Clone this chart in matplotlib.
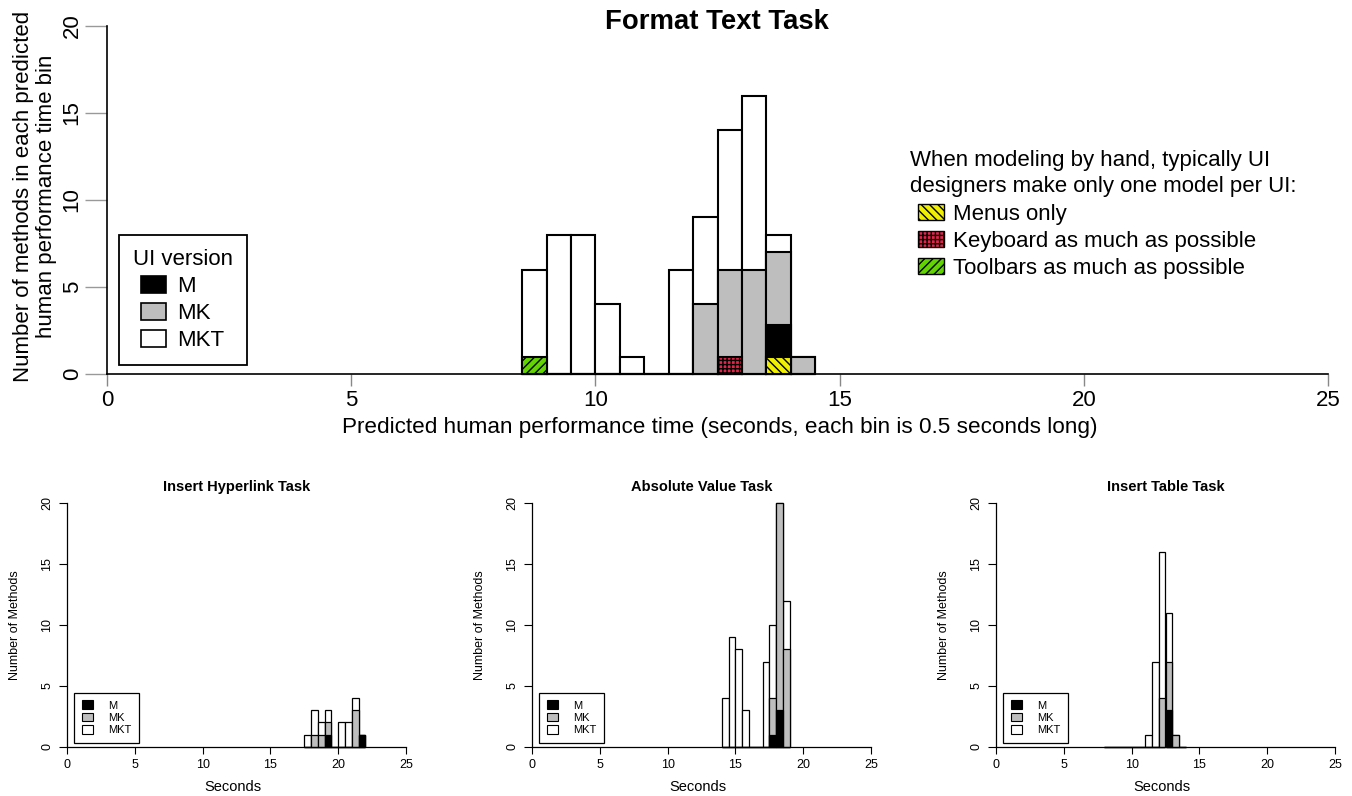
import matplotlib
matplotlib.use('Agg')
import matplotlib.pyplot as plt
from matplotlib.patches import Patch

plt.rcParams['font.family'] = ['Liberation Sans', 'DejaVu Sans']
plt.rcParams['hatch.linewidth'] = 1.0

BIN = 0.5

# ---- Main chart: Format Text Task ----
ft_bins = [8.5, 9.0, 9.5, 10.0, 10.5, 11.0, 11.5, 12.0, 12.5, 13.0, 13.5, 14.0]
ft_mkt = [6, 8, 8, 4, 1, 0, 6, 9, 14, 16, 8, 1]
ft_mk = [0, 0, 0, 0, 0, 0, 0, 4, 6, 6, 7, 1]
ft_m = [0, 0, 0, 0, 0, 0, 0, 0, 0, 0, 2.8, 0]

hand_labels = ['Menus only', 'Keyboard as much as possible', 'Toolbars as much as possible']
hand_bins = [13.5, 12.5, 8.5]
hand_counts = [1, 1, 1]
hand_colors = ['#F0F000', '#E8234A', '#62D400']
hand_hatches = ['\\\\\\\\', '++++', '////']

# ---- Small charts ----
hl_bins = [17.5, 18.0, 18.5, 19.0, 19.5, 20.0, 20.5, 21.0, 21.5]
hl_mkt = [1, 3, 2, 3, 0, 2, 2, 4, 1]
hl_mk = [0, 1, 1, 2, 0, 0, 0, 3, 1]
hl_m = [0, 0, 0, 1, 0, 0, 0, 0, 1]

av_bins = [14.0, 14.5, 15.0, 15.5, 16.0, 16.5, 17.0, 17.5, 18.0, 18.5]
av_mkt = [4, 9, 8, 3, 0, 0, 7, 10, 20, 12]
av_mk = [0, 0, 0, 0, 0, 0, 0, 4, 20, 8]
av_m = [0, 0, 0, 0, 0, 0, 0, 1, 3, 0]

it_bins = [8.0, 8.5, 9.0, 9.5, 10.0, 10.5, 11.0, 11.5, 12.0, 12.5, 13.0, 13.5]
it_mkt = [0, 0, 0, 0, 0, 0, 1, 7, 16, 11, 1, 0]
it_mk = [0, 0, 0, 0, 0, 0, 0, 0, 4, 7, 1, 0]
it_m = [0, 0, 0, 0, 0, 0, 0, 0, 0, 3, 0, 0]

small_titles = ['Insert Hyperlink Task', 'Absolute Value Task', 'Insert Table Task']
small_data = [(hl_bins, hl_mkt, hl_mk, hl_m),
              (av_bins, av_mkt, av_mk, av_m),
              (it_bins, it_mkt, it_mk, it_m)]

versions = ['M', 'MK', 'MKT']
version_colors = ['black', '#BEBEBE', 'white']

x_ticks = [0, 5, 10, 15, 20, 25]
y_ticks = [0, 5, 10, 15, 20]

W, H = 1352, 796
fig = plt.figure(figsize=(W / 100, H / 100), dpi=100)


def draw_stack(ax, bins, mkt, mk, m, lw):
    ax.bar(bins, mkt, width=BIN, align='edge', color='white', edgecolor='black',
           linewidth=lw, zorder=2, clip_on=False)
    ax.bar(bins, mk, width=BIN, align='edge', color='#BEBEBE', edgecolor='black',
           linewidth=lw, zorder=3, clip_on=False)
    ax.bar(bins, m, width=BIN, align='edge', color='black', edgecolor='black',
           linewidth=lw, zorder=4, clip_on=False)


# ---------------- main axes ----------------
ax = fig.add_axes([107 / W, 1 - 374 / H, 1221 / W, (374 - 26) / H])
draw_stack(ax, ft_bins, ft_mkt, ft_mk, ft_m, 1.5)
for b, c, col, h in zip(hand_bins, hand_counts, hand_colors, hand_hatches):
    ax.bar([b], [c], width=BIN, align='edge', color=col, edgecolor='black',
           hatch=h, linewidth=1.5, zorder=5, clip_on=False)

ax.set_xlim(0, 25)
ax.set_ylim(0, 20)
for s in ['top', 'right']:
    ax.spines[s].set_visible(False)
ax.spines['left'].set_linewidth(1.2)
ax.spines['bottom'].set_linewidth(1.2)
ax.spines['bottom'].set_zorder(6)
ax.set_xticks(x_ticks)
ax.set_yticks(y_ticks)
ax.tick_params(axis='x', length=8.5, width=1, color='#888888', labelsize=16, pad=3)
ax.tick_params(axis='y', length=15.5, width=1, color='#999999', labelsize=16, pad=2,
               labelrotation=90)
for lab in ax.get_yticklabels():
    lab.set_va('center')

fig.text(717 / W, 1 - 22 / H, 'Format Text Task', fontsize=19.8, fontweight='bold',
         ha='center', va='center')
fig.text(720 / W, 1 - 428 / H,
         'Predicted human performance time (seconds, each bin is 0.5 seconds long)',
         fontsize=16.2, ha='center', va='center')
fig.text(35 / W, 1 - 196 / H,
         'Number of methods in each predicted\nhuman performance time bin',
         fontsize=16, ha='center', va='center', rotation=90, multialignment='center',
         linespacing=1.12)

vh = [Patch(facecolor=c, edgecolor='black', linewidth=1.2) for c in version_colors]
leg1 = ax.legend(vh, versions, title='UI version', loc='upper left',
                 bbox_to_anchor=(119 / W, 1 - 235 / H), bbox_transform=fig.transFigure,
                 borderaxespad=0, fontsize=16, title_fontsize=16, frameon=True,
                 fancybox=False, edgecolor='black', framealpha=1,
                 handlelength=1.15, handleheight=0.8, handletextpad=0.5,
                 labelspacing=0.27, borderpad=0.62, alignment='center')
leg1.get_frame().set_linewidth(1.3)
ax.add_artist(leg1)

fig.text(910 / W, 1 - 150 / H,
         'When modeling by hand, typically UI\ndesigners make only one model per UI:',
         fontsize=16, ha='left', va='top', linespacing=1.3)

hh = [Patch(facecolor=c, edgecolor='black', hatch=h, linewidth=1.0)
      for c, h in zip(hand_colors, hand_hatches)]
leg2 = ax.legend(hh, hand_labels,
                 loc='upper left', bbox_to_anchor=(914 / W, 1 - 199.5 / H),
                 bbox_transform=fig.transFigure, borderaxespad=0, fontsize=16,
                 frameon=False, handlelength=1.15, handleheight=0.7,
                 handletextpad=0.4, labelspacing=0.27, borderpad=0.2)

# ---------------- small axes ----------------
lefts = [67, 532, 996]
for left, title, (bins, mkt, mk, m) in zip(lefts, small_titles, small_data):
    a = fig.add_axes([left / W, 1 - 746.7 / H, 339 / W, 243.4 / H])
    draw_stack(a, bins, mkt, mk, m, 0.9)
    a.set_xlim(0, 25)
    a.set_ylim(0, 20)
    for s in ['top', 'right']:
        a.spines[s].set_visible(False)
    a.spines['left'].set_linewidth(0.9)
    a.spines['bottom'].set_linewidth(0.9)
    a.set_xticks(x_ticks)
    a.set_yticks(y_ticks)
    a.tick_params(axis='x', length=5, width=0.8, labelsize=9, pad=4)
    a.tick_params(axis='y', length=6, width=0.8, labelsize=9, pad=4, labelrotation=90)
    for lab in a.get_yticklabels():
        lab.set_va('center')
    a.text(0.5, 1.067, title, transform=a.transAxes, fontsize=10.5, fontweight='bold',
           ha='center', va='center')
    a.text(0.49, -0.166, 'Seconds', transform=a.transAxes, fontsize=10.5,
           ha='center', va='center')
    a.text(-0.153, 0.5, 'Number of Methods', transform=a.transAxes, fontsize=9,
           ha='center', va='center', rotation=90)
    sh = [Patch(facecolor=c, edgecolor='black', linewidth=0.8) for c in version_colors]
    lg = a.legend(sh, versions, loc='lower left', bbox_to_anchor=(0.02, 0.015),
                  borderaxespad=0, fontsize=8, frameon=True, fancybox=False,
                  edgecolor='black', framealpha=1, handlelength=1.0, handleheight=0.8,
                  handletextpad=1.4, labelspacing=0.2, borderpad=0.7)
    lg.get_frame().set_linewidth(0.9)

fig.savefig('out.png', dpi=100)
